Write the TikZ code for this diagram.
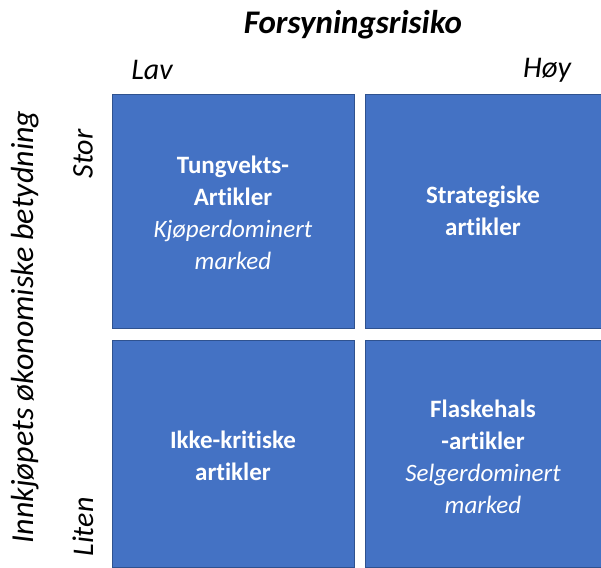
\documentclass[tikz,border=0pt]{standalone}
\usepackage{fontspec}
\setmainfont[Ligatures=NoCommon]{Carlito}
\definecolor{boxfill}{HTML}{4472C4}
\definecolor{boxline}{HTML}{2F528F}
\begin{document}
\begin{tikzpicture}[x=1pt,y=-1pt,
  quad/.style={draw=boxline,line width=1.2pt,fill=boxfill},
  boxtext/.style={text=white,align=center,font=\fontsize{25}{32}\selectfont},
  axis/.style={font=\fontsize{30}{34}\selectfont\itshape,text=black}]
\useasboundingbox (0,0) rectangle (601,567);
\fill[white] (0,0) rectangle (601,567);
% quadrants
\path[quad] (112.5,94.5) rectangle (354.5,328.5);
\path[quad] (365.5,94.5) rectangle (602,328.5);
\path[quad] (112.5,340.5) rectangle (354.5,568);
\path[quad] (365.5,340.5) rectangle (602,568);
% texts in quadrants
\node[boxtext] (tl) at (233,213) {\textbf{Tungvekts-}\\\textbf{Artikler}\\\textit{Kjøperdominert}\\\textit{marked}};
\node[boxtext] (tr) at (483,211) {\textbf{Strategiske}\\\textbf{artikler}};
\node[boxtext] (bl) at (233,456) {\textbf{Ikke-kritiske}\\\textbf{artikler}};
\node[boxtext] (br) at (483,457) {\textbf{Flaskehals}\\\textbf{-artikler}\\\textit{Selgerdominert}\\\textit{marked}};
% axis labels
\node[font=\fontsize{33}{36}\selectfont\bfseries\itshape] (title) at (353,25) {Forsyningsrisiko};
\node[axis] (lav) at (152,70) {Lav};
\node[axis] (hoy) at (547,70) {Høy};
\node[axis,font=\fontsize{32}{34}\selectfont\itshape,rotate=90] (yax) at (25,327) {Innkjøpets økonomiske betydning};
\node[axis,rotate=90] (stor) at (83,154) {Stor};
\node[axis,rotate=90] (liten) at (83,527) {Liten};
\end{tikzpicture}
\end{document}
